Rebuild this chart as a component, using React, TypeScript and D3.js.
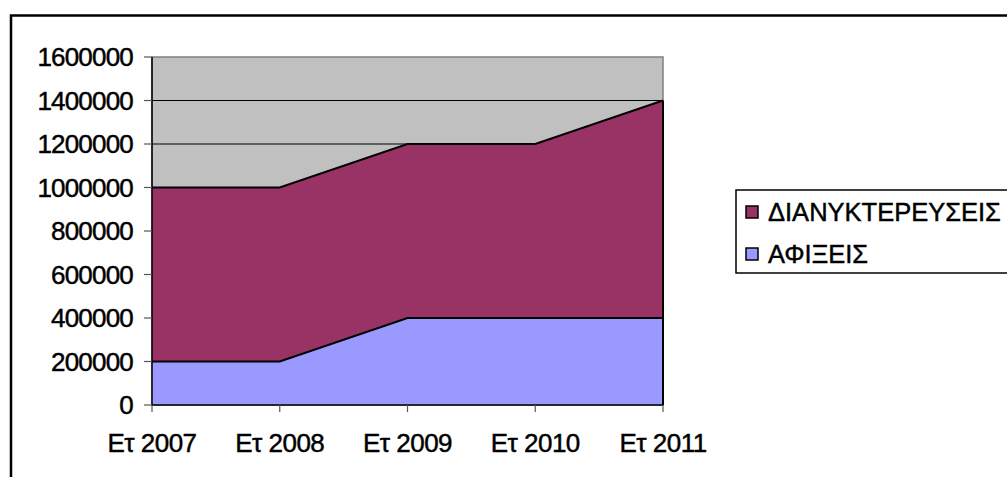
import React from "react";
import * as d3 from "d3";

// Years on the category axis
const categories: string[] = ["Ετ 2007", "Ετ 2008", "Ετ 2009", "Ετ 2010", "Ετ 2011"];
// Arrivals (bottom layer)
const afixeis: number[] = [200000, 200000, 400000, 400000, 400000];
// Overnight stays (stacked on top of arrivals)
const dianyktereuseis: number[] = [800000, 800000, 800000, 800000, 1000000];
// Value axis ticks
const yTicks: number[] = [0, 200000, 400000, 600000, 800000, 1000000, 1200000, 1400000, 1600000];

const seriesNames = ["ΑΦΙΞΕΙΣ", "ΔΙΑΝΥΚΤΕΡΕΥΣΕΙΣ"];
const colors: Record<string, string> = {
  "ΑΦΙΞΕΙΣ": "#9999FF",
  "ΔΙΑΝΥΚΤΕΡΕΥΣΕΙΣ": "#993366",
};

const W = 1007;
const H = 477;
const plot = { left: 152, right: 663, top: 57, bottom: 405 };
const font = "'Liberation Sans', Arial, sans-serif";
const textStyle = { stroke: "#000", strokeWidth: 0.45 };

export default function App() {
  const rows = categories.map((c, i) => ({
    cat: c,
    "ΑΦΙΞΕΙΣ": afixeis[i],
    "ΔΙΑΝΥΚΤΕΡΕΥΣΕΙΣ": dianyktereuseis[i],
  }));
  const stack = d3.stack<any>().keys(seriesNames);
  const layers = stack(rows);

  const x = d3
    .scalePoint<string>()
    .domain(categories)
    .range([plot.left, plot.right])
    .padding(0);
  const y = d3.scaleLinear().domain([0, 1600000]).range([plot.bottom, plot.top]);

  const area = d3
    .area<any>()
    .x((d) => x(d.data.cat) as number)
    .y0((d) => y(d[0]))
    .y1((d) => y(d[1]));
  const topLine = d3
    .line<any>()
    .x((d) => x(d.data.cat) as number)
    .y((d) => y(d[1]));

  const legendItems = [...seriesNames].reverse();

  return (
    <div style={{ position: "absolute", left: 0, top: 0 }}>
      <svg width={W} height={H} style={{ display: "block" }}>
        <rect x={0} y={0} width={W} height={H} fill="#ffffff" />
        {/* chart frame */}
        <rect x={11} y={15.5} width={W + 20} height={H + 20} fill="none" stroke="#000" strokeWidth={2.5} />

        {/* plot area */}
        <rect
          x={plot.left}
          y={plot.top}
          width={plot.right - plot.left}
          height={plot.bottom - plot.top}
          fill="#C0C0C0"
          stroke="#808080"
          strokeWidth={1.5}
        />
        {/* gridlines */}
        {yTicks
          .filter((t) => t > 0 && t < 1600000)
          .map((t) => (
            <line key={"g" + t} x1={plot.left} x2={plot.right} y1={y(t)} y2={y(t)} stroke="#000" strokeWidth={1} />
          ))}

        {/* stacked areas */}
        {layers.map((layer) => (
          <path key={layer.key} d={area(layer) as string} fill={colors[layer.key]} />
        ))}
        {layers.map((layer) => (
          <path
            key={"l" + layer.key}
            d={topLine(layer) as string}
            fill="none"
            stroke="#000"
            strokeWidth={2}
          />
        ))}
        {/* right edge of the series */}
        <line
          x1={plot.right}
          x2={plot.right}
          y1={y(0)}
          y2={y(afixeis[4] + dianyktereuseis[4])}
          stroke="#000"
          strokeWidth={2}
        />

        {/* axes */}
        <line x1={plot.left} x2={plot.left} y1={plot.top} y2={plot.bottom} stroke="#000" strokeWidth={1.5} />
        <line x1={plot.left} x2={plot.right} y1={plot.bottom} y2={plot.bottom} stroke="#000" strokeWidth={1.5} />
        {yTicks.map((t) => (
          <g key={"yt" + t}>
            <line x1={plot.left - 8} x2={plot.left} y1={y(t)} y2={y(t)} stroke="#555" strokeWidth={1.2} />
            <text
              x={plot.left - 19}
              y={y(t)}
              dy="0.36em"
              textAnchor="end"
              fontFamily={font}
              fontSize={26}
              letterSpacing={-0.8}
              fill="#000"
              style={textStyle}
            >
              {t}
            </text>
          </g>
        ))}
        {categories.map((c) => (
          <g key={"xt" + c}>
            <line
              x1={x(c) as number}
              x2={x(c) as number}
              y1={plot.bottom}
              y2={plot.bottom + 7}
              stroke="#555"
              strokeWidth={1.2}
            />
            <text
              x={x(c) as number}
              y={452}
              textAnchor="middle"
              fontFamily={font}
              fontSize={26}
              letterSpacing={-0.5}
              fill="#000"
              style={textStyle}
            >
              {c}
            </text>
          </g>
        ))}

        {/* legend */}
        <rect x={736} y={190} width={320} height={83} fill="#fff" stroke="#000" strokeWidth={1.5} />
        {legendItems.map((name, i) => {
          const cy = 212 + i * 42;
          return (
            <g key={"lg" + name}>
              <rect x={746} y={cy - 6} width={12} height={12} fill={colors[name]} stroke="#000" strokeWidth={1.5} />
              <text
                x={768}
                y={cy}
                dy="0.36em"
                fontFamily={font}
                fontSize={25.5}
                letterSpacing={0}
                fill="#000"
                style={textStyle}
              >
                {name}
              </text>
            </g>
          );
        })}
      </svg>
    </div>
  );
}
